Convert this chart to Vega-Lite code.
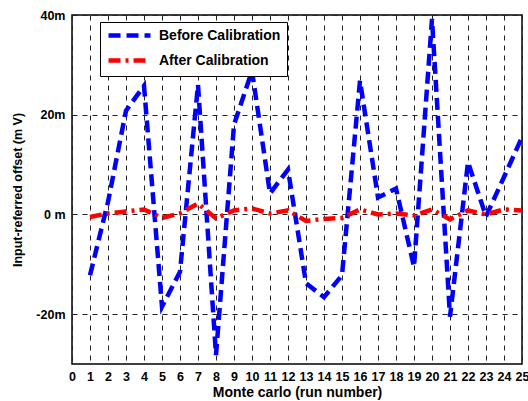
{
  "$schema": "https://vega.github.io/schema/vega-lite/v6.json",
  "width": 450,
  "height": 349,
  "autosize": {"type": "none"},
  "padding": {"left": 72, "top": 15, "right": 6, "bottom": 37},
  "background": "white",
  "config": {
    "view": {"stroke": "black", "strokeWidth": 1.5},
    "font": "Liberation Sans",
    "axis": {
      "labelFont": "Liberation Sans", "labelFontWeight": "bold", "labelFontSize": 12.5, "labelColor": "black",
      "titleFont": "Liberation Sans", "titleFontWeight": "bold", "titleFontSize": 12.5, "titleColor": "black",
      "grid": true, "gridColor": "#222", "gridDash": [5, 5], "gridWidth": 1,
      "domain": false, "ticks": false
    }
  },
  "data": {
    "values": [
      {"run": 1, "offset": -12.2, "series": "Before Calibration"},
      {"run": 2, "offset": 2.5, "series": "Before Calibration"},
      {"run": 3, "offset": 20.8, "series": "Before Calibration"},
      {"run": 4, "offset": 25.8, "series": "Before Calibration"},
      {"run": 5, "offset": -18.5, "series": "Before Calibration"},
      {"run": 6, "offset": -11.5, "series": "Before Calibration"},
      {"run": 7, "offset": 26, "series": "Before Calibration"},
      {"run": 8, "offset": -28.2, "series": "Before Calibration"},
      {"run": 9, "offset": 18, "series": "Before Calibration"},
      {"run": 10, "offset": 28.8, "series": "Before Calibration"},
      {"run": 11, "offset": 4.2, "series": "Before Calibration"},
      {"run": 12, "offset": 9, "series": "Before Calibration"},
      {"run": 13, "offset": -13.8, "series": "Before Calibration"},
      {"run": 14, "offset": -16.6, "series": "Before Calibration"},
      {"run": 15, "offset": -12.2, "series": "Before Calibration"},
      {"run": 16, "offset": 26.8, "series": "Before Calibration"},
      {"run": 17, "offset": 3.4, "series": "Before Calibration"},
      {"run": 18, "offset": 5.2, "series": "Before Calibration"},
      {"run": 19, "offset": -10.5, "series": "Before Calibration"},
      {"run": 20, "offset": 39.2, "series": "Before Calibration"},
      {"run": 21, "offset": -20.5, "series": "Before Calibration"},
      {"run": 22, "offset": 10.5, "series": "Before Calibration"},
      {"run": 23, "offset": -0.4, "series": "Before Calibration"},
      {"run": 24, "offset": 7.5, "series": "Before Calibration"},
      {"run": 25, "offset": 15.5, "series": "Before Calibration"},
      {"run": 1, "offset": -0.5, "series": "After Calibration"},
      {"run": 2, "offset": 0.2, "series": "After Calibration"},
      {"run": 3, "offset": 0.6, "series": "After Calibration"},
      {"run": 4, "offset": 1.0, "series": "After Calibration"},
      {"run": 5, "offset": -0.7, "series": "After Calibration"},
      {"run": 6, "offset": 0.2, "series": "After Calibration"},
      {"run": 7, "offset": 2.2, "series": "After Calibration"},
      {"run": 8, "offset": -0.8, "series": "After Calibration"},
      {"run": 9, "offset": 0.8, "series": "After Calibration"},
      {"run": 10, "offset": 1.2, "series": "After Calibration"},
      {"run": 11, "offset": 0.2, "series": "After Calibration"},
      {"run": 12, "offset": 0.8, "series": "After Calibration"},
      {"run": 13, "offset": -1.3, "series": "After Calibration"},
      {"run": 14, "offset": -0.9, "series": "After Calibration"},
      {"run": 15, "offset": -0.7, "series": "After Calibration"},
      {"run": 16, "offset": 1.0, "series": "After Calibration"},
      {"run": 17, "offset": 0.0, "series": "After Calibration"},
      {"run": 18, "offset": 0.2, "series": "After Calibration"},
      {"run": 19, "offset": -0.2, "series": "After Calibration"},
      {"run": 20, "offset": 1.0, "series": "After Calibration"},
      {"run": 21, "offset": -1.0, "series": "After Calibration"},
      {"run": 22, "offset": 0.8, "series": "After Calibration"},
      {"run": 23, "offset": 0.0, "series": "After Calibration"},
      {"run": 24, "offset": 1.0, "series": "After Calibration"},
      {"run": 25, "offset": 0.8, "series": "After Calibration"}
    ]
  },
  "mark": {"type": "line", "strokeWidth": 4.5, "clip": true},
  "encoding": {
    "x": {
      "field": "run", "type": "quantitative",
      "scale": {"domain": [0, 25], "nice": false, "zero": false},
      "axis": {"values": [0,1,2,3,4,5,6,7,8,9,10,11,12,13,14,15,16,17,18,19,20,21,22,23,24,25], "labelPadding": 6, "titlePadding": 3, "title": "Monte carlo (run number)", "titleFontSize": 14, "labelFlush": false}
    },
    "y": {
      "field": "offset", "type": "quantitative",
      "scale": {"domain": [-30, 40], "nice": false, "zero": false},
      "axis": {"values": [-20, 0, 20, 40], "labelExpr": "datum.value == 0 ? '0 m' : datum.value + 'm'", "labelPadding": 7, "titlePadding": 11, "title": "Input-referred offset (m V)", "titleFontSize": 12.5, "labelFlush": false}
    },
    "color": {
      "field": "series", "type": "nominal",
      "scale": {"domain": ["Before Calibration", "After Calibration"], "range": ["#0000FF", "#FF0000"]},
      "legend": {
        "title": null, "orient": "none", "legendX": 28, "legendY": 7,
        "strokeColor": "black", "fillColor": "white", "padding": 6,
        "symbolType": "M-4,0H4", "symbolStrokeWidth": 4.5, "symbolSize": 110, "symbolOffset": 16,
        "labelFont": "Liberation Sans", "labelFontWeight": "bold", "labelFontSize": 14, "labelColor": "black",
        "rowPadding": 6, "labelOffset": 22
      }
    },
    "strokeDash": {
      "field": "series", "type": "nominal",
      "scale": {"domain": ["Before Calibration", "After Calibration"], "range": [[12, 6], [12, 5, 3, 5]]},
      "legend": null
    }
  }
}
